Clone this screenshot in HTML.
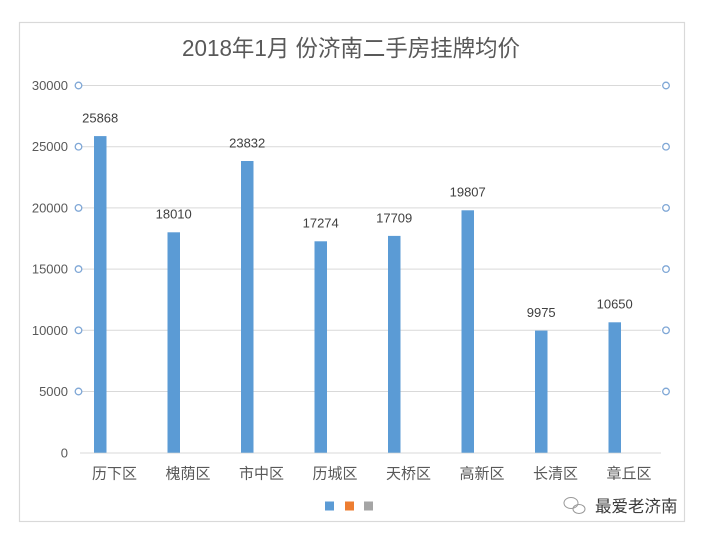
<!DOCTYPE html>
<html><head><meta charset="utf-8">
<style>
html,body{margin:0;padding:0;background:#fff;}
svg{display:block;}
text{font-family:"Liberation Sans","Noto Sans CJK SC",sans-serif;}
</style></head>
<body>
<svg width="702" height="537" viewBox="0 0 702 537" xmlns="http://www.w3.org/2000/svg">
<rect x="0" y="0" width="702" height="537" fill="#fff"/>
<rect x="19.5" y="22.5" width="665" height="499" fill="#fff" stroke="#d9d9d9" stroke-width="1.2"/>
<text x="351" y="56" font-size="23" fill="#595959" text-anchor="middle" textLength="338" lengthAdjust="spacingAndGlyphs">2018年1月 份济南二手房挂牌均价</text>
<g stroke="#d9d9d9" stroke-width="1">
<line x1="81" y1="85.5" x2="661" y2="85.5"/>
<line x1="81" y1="146.7" x2="661" y2="146.7"/>
<line x1="81" y1="207.9" x2="661" y2="207.9"/>
<line x1="81" y1="269.1" x2="661" y2="269.1"/>
<line x1="81" y1="330.3" x2="661" y2="330.3"/>
<line x1="81" y1="391.5" x2="661" y2="391.5"/>
<line x1="80" y1="453" x2="661" y2="453"/>
</g>
<g fill="#fff" stroke="#7fa7d6" stroke-width="1.3">
<circle cx="78.5" cy="85.5" r="3.3"/><circle cx="78.5" cy="146.7" r="3.3"/><circle cx="78.5" cy="207.9" r="3.3"/>
<circle cx="78.5" cy="269.1" r="3.3"/><circle cx="78.5" cy="330.3" r="3.3"/><circle cx="78.5" cy="391.5" r="3.3"/>
<circle cx="666" cy="85.5" r="3.3"/><circle cx="666" cy="146.7" r="3.3"/><circle cx="666" cy="207.9" r="3.3"/>
<circle cx="666" cy="269.1" r="3.3"/><circle cx="666" cy="330.3" r="3.3"/><circle cx="666" cy="391.5" r="3.3"/>
</g>
<g font-size="13" fill="#595959" text-anchor="end">
<text x="68" y="90">30000</text>
<text x="68" y="151.2">25000</text>
<text x="68" y="212.4">20000</text>
<text x="68" y="273.6">15000</text>
<text x="68" y="334.8">10000</text>
<text x="68" y="396">5000</text>
<text x="68" y="457.5">0</text>
</g>
<g fill="#5b9bd5">
<rect x="94" y="136.1" width="12.5" height="316.6"/>
<rect x="167.5" y="232.3" width="12.5" height="220.4"/>
<rect x="241" y="161" width="12.5" height="291.7"/>
<rect x="314.5" y="241.3" width="12.5" height="211.4"/>
<rect x="388" y="235.9" width="12.5" height="216.8"/>
<rect x="461.5" y="210.3" width="12.5" height="242.4"/>
<rect x="535" y="330.6" width="12.5" height="122.1"/>
<rect x="608.5" y="322.3" width="12.5" height="130.4"/>
</g>
<g font-size="13" fill="#404040" text-anchor="middle">
<text x="100.2" y="122.5">25868</text>
<text x="173.7" y="218.7">18010</text>
<text x="247.2" y="147.4">23832</text>
<text x="320.7" y="227.7">17274</text>
<text x="394.2" y="222.3">17709</text>
<text x="467.7" y="196.7">19807</text>
<text x="541.2" y="317">9975</text>
<text x="614.7" y="308.7">10650</text>
</g>
<g font-size="15" fill="#595959" text-anchor="middle">
<text x="114.5" y="478.5">历下区</text>
<text x="188" y="478.5">槐荫区</text>
<text x="261.5" y="478.5">市中区</text>
<text x="335" y="478.5">历城区</text>
<text x="408.5" y="478.5">天桥区</text>
<text x="482" y="478.5">高新区</text>
<text x="555.5" y="478.5">长清区</text>
<text x="629" y="478.5">章丘区</text>
</g>
<rect x="325" y="501.5" width="9" height="9" fill="#5b9bd5"/>
<rect x="345" y="501.5" width="9" height="9" fill="#ed7d31"/>
<rect x="364" y="501.5" width="9" height="9" fill="#a5a5a5"/>
<g fill="none" stroke="#999" stroke-width="1">
<ellipse cx="571" cy="503" rx="7" ry="5.5"/>
<ellipse cx="579" cy="509" rx="6" ry="4.5"/>
</g>
<text x="595" y="512" font-size="16.5" fill="#3a3a3a">最爱老济南</text>
</svg>
</body></html>
